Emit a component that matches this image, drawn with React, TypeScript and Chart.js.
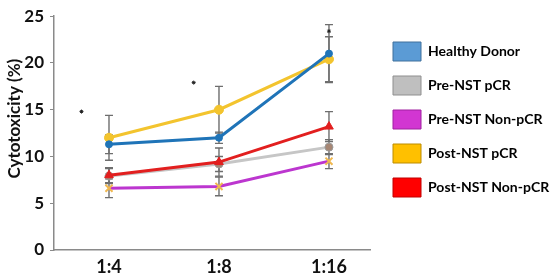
import React, { useEffect, useRef } from "react";
import { Chart, registerables } from "chart.js";

Chart.register(...registerables);

const categories = ["1:4", "1:8", "1:16"];
const seriesNames = ["Healthy Donor", "Pre-NST pCR", "Pre-NST Non-pCR", "Post-NST pCR", "Post-NST Non-pCR"];

const healthyDonor = [11.3, 12.0, 21.0];
const preNstPcr = [7.9, 9.2, 11.0];
const preNstNonPcr = [6.6, 6.8, 9.5];
const postNstPcr = [12.0, 15.0, 20.4];
const postNstNonPcr = [8.0, 9.4, 13.2];

const healthyErr = [1.0, 0.6, 3.1];
const preNstPcrErr = [0.8, 0.8, 0.8];
const preNstNonPcrErr = [1.0, 1.0, 0.8];
const postNstPcrErr = [2.4, 2.5, 2.4];
const postNstNonPcrErr = [0.8, 1.5, 1.6];

const sigX = [-0.25, 0.77, 2.0];
const sigY = [14.8, 17.9, 23.4];

const yTicks = [0, 5, 10, 15, 20, 25];

const lineColors = ["#1F74B8", "#C6C6C6", "#BC36CF", "#F3C42E", "#E21F1F"];
const legendFill = ["#5B9BD5", "#BFBFBF", "#D236D2", "#FFC000", "#FF0000"];
const legendStroke = ["#41719C", "#8F8F8F", "#A020A0", "#BC8C00", "#C00000"];

const FONT = "Lato";

const errorBarsPlugin = {
  id: "errorBars",
  beforeDatasetsDraw(chart: any) {
    const { ctx } = chart;
    const xs = chart.scales.x;
    const ys = chart.scales.y;
    ctx.save();
    ctx.strokeStyle = "#6E6E6E";
    ctx.lineWidth = 1.4;
    chart.data.datasets.forEach((ds: any, i: number) => {
      if (!ds.errors) return;
      const meta = chart.getDatasetMeta(i);
      if (meta.hidden) return;
      ds.data.forEach((p: any, j: number) => {
        const e = ds.errors[j];
        const x = xs.getPixelForValue(p.x);
        const yT = ys.getPixelForValue(p.y + e);
        const yB = ys.getPixelForValue(p.y - e);
        ctx.beginPath();
        ctx.moveTo(x, yT);
        ctx.lineTo(x, yB);
        ctx.moveTo(x - 4, yT);
        ctx.lineTo(x + 4, yT);
        ctx.moveTo(x - 4, yB);
        ctx.lineTo(x + 4, yB);
        ctx.stroke();
      });
    });
    ctx.restore();
  },
};

function toPoints(vals: number[]) {
  return vals.map((v, i) => ({ x: i, y: v }));
}

export default function App() {
  const ref = useRef<HTMLCanvasElement | null>(null);

  useEffect(() => {
    document.body.style.margin = "0";
    const canvas = ref.current;
    if (!canvas) return;

    const series = [healthyDonor, preNstPcr, preNstNonPcr, postNstPcr, postNstNonPcr];
    const errs = [healthyErr, preNstPcrErr, preNstNonPcrErr, postNstPcrErr, postNstNonPcrErr];
    const styles: any[] = [
      { pointStyle: "circle", pointRadius: 3.5, pointBackgroundColor: "#1F74B8", pointBorderColor: "#1F74B8", order: 1 },
      { pointStyle: "circle", pointRadius: 4, pointBackgroundColor: "#A68674", pointBorderColor: "#9A9A9A", order: 4 },
      { pointStyle: "crossRot", pointRadius: 5, pointBackgroundColor: "#F0B850", pointBorderColor: "#F0B850", order: 3 },
      { pointStyle: "circle", pointRadius: 4.5, pointBackgroundColor: "#F3C42E", pointBorderColor: "#F3C42E", order: 2 },
      { pointStyle: "triangle", pointRadius: 5, pointBackgroundColor: "#E21F1F", pointBorderColor: "#E21F1F", order: 0 },
    ];

    const datasets: any[] = series.map((vals, i) => ({
      label: seriesNames[i],
      data: toPoints(vals),
      errors: errs[i],
      borderColor: lineColors[i],
      borderWidth: 3,
      pointBorderWidth: i === 2 ? 2 : 1,
      tension: 0,
      fill: false,
      ...styles[i],
    }));

    datasets.push({
      label: "sig",
      data: sigX.map((x, i) => ({ x, y: sigY[i] })),
      showLine: false,
      pointStyle: "star",
      pointRadius: 2,
      pointBorderWidth: 1,
      pointBorderColor: "#222",
      pointBackgroundColor: "#222",
      borderColor: "#222",
      order: 5,
    });

    const chart = new Chart(canvas, {
      type: "line",
      data: { datasets },
      plugins: [errorBarsPlugin],
      options: {
        animation: false,
        responsive: false,
        maintainAspectRatio: false,
        layout: { padding: { top: 1, right: 0, left: 0, bottom: 0 } },
        plugins: {
          tooltip: { enabled: false },
          legend: {
            position: "right",
            align: "start",
            maxWidth: 172,
            title: { display: true, text: " ", font: { size: 10 }, padding: { top: 0, bottom: 14 } },
            labels: {
              boxWidth: 28,
              boxHeight: 19,
              padding: 15,
              color: "#000",
              font: { family: FONT, size: 14, weight: "bold" },
              generateLabels: () =>
                seriesNames.map((name, i) => ({
                  text: name,
                  fillStyle: legendFill[i],
                  strokeStyle: legendStroke[i],
                  lineWidth: 1,
                  hidden: false,
                  datasetIndex: i,
                  fontColor: "#000",
                })),
            },
          },
        },
        scales: {
          x: {
            type: "linear",
            min: -0.5,
            max: 2.373,
            afterBuildTicks: (s: any) => {
              s.ticks = categories.map((_, i) => ({ value: i }));
            },
            afterFit: (s: any) => {
              s.height = 25;
            },
            grid: { display: false, drawTicks: false },
            border: { display: true, color: "#8A8A8A", width: 1.5 },
            ticks: {
              padding: 6,
              color: "#111",
              font: { family: FONT, size: 18, weight: "bold" },
              callback: (v: any) => categories[v] ?? "",
            },
          },
          y: {
            type: "linear",
            min: 0,
            max: 25,
            afterBuildTicks: (s: any) => {
              s.ticks = yTicks.map((v) => ({ value: v }));
            },
            afterFit: (s: any) => {
              s.width = 54;
            },
            grid: { drawOnChartArea: false, drawTicks: true, tickLength: 4, color: "#8A8A8A" },
            border: { display: true, color: "#8A8A8A", width: 1.5 },
            ticks: {
              padding: 6,
              color: "#111",
              font: { family: FONT, size: 17, weight: "bold" },
            },
            title: {
              display: true,
              text: "       Cytotoxicity (%)",
              color: "#111",
              padding: { top: 4, bottom: 0 },
              font: { family: FONT, size: 17, weight: "bold" },
            },
          },
          y2: {
            type: "linear",
            position: "right",
            display: true,
            afterFit: (s: any) => {
              s.width = 8;
            },
            grid: { display: false, drawTicks: false },
            border: { display: false },
            ticks: { display: false },
          },
        },
      } as any,
    });

    return () => chart.destroy();
  }, []);

  return (
    <div style={{ width: 550, height: 275, position: "relative" }}>
      <canvas ref={ref} width={550} height={275} style={{ width: 550, height: 275, display: "block" }} />
    </div>
  );
}
